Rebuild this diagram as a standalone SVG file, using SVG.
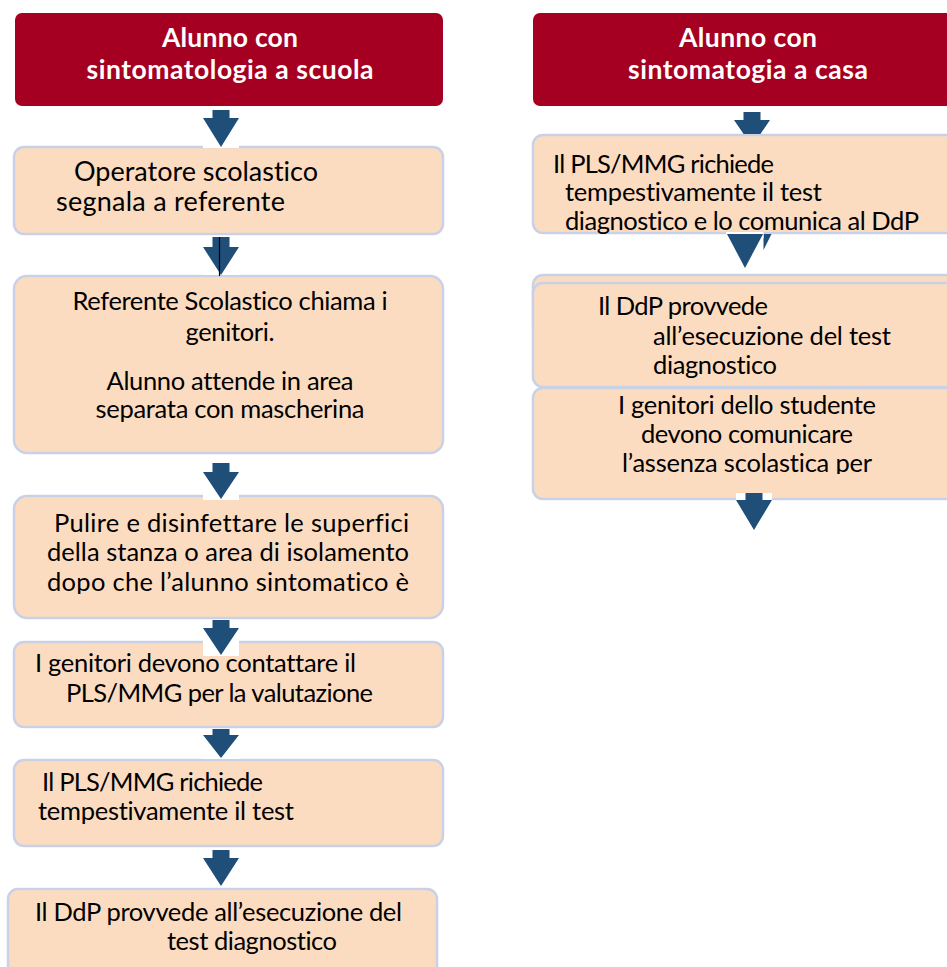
<svg xmlns="http://www.w3.org/2000/svg" width="947" height="967" viewBox="0 0 947 967">
<style>
.hdr{fill:#A50021}
.box{fill:#FCDCC1;stroke:#C9D1E7;stroke-width:2.5}
.ht{font-family:Lato,"Liberation Sans",Arial,sans-serif;font-weight:bold;font-size:26.5px;fill:#FFFFFF;text-anchor:middle;font-variant-ligatures:none}
.t{font-family:Lato,"Liberation Sans",Arial,sans-serif;font-size:25.5px;fill:#000000;font-variant-ligatures:none}
.big{font-size:27px}
.m{text-anchor:middle}
.arr{fill:#1F4E79}
.bg{fill:#FFFFFF}
</style>
<defs>
<clipPath id="c3"><rect x="10" y="490" width="440" height="104"/></clipPath>
<clipPath id="cr3"><rect x="530" y="385" width="420" height="89"/></clipPath>
</defs>
<rect width="947" height="967" fill="#FFFFFF"/>

<g id="header-left">
<rect class="hdr" x="15" y="13" width="428" height="93" rx="7"/>
<text class="ht" x="230" y="47" textLength="136">Alunno con</text>
<text class="ht" x="230" y="79" textLength="287">sintomatologia a scuola</text>
</g>

<g id="box-operatore">
<rect class="box" x="14" y="147" width="429" height="87" rx="10"/>
<text class="t big" x="74" y="181" textLength="244">Operatore scolastico</text>
<text class="t big" x="56" y="211" textLength="229">segnala a referente</text>
</g>

<g id="box-referente">
<rect class="box" x="14" y="276" width="429" height="177" rx="13"/>
<text class="t m" x="230" y="310" textLength="315">Referente Scolastico chiama i</text>
<text class="t m" x="230" y="341" textLength="89">genitori.</text>
<text class="t m" x="230" y="390" textLength="247">Alunno attende in area</text>
<text class="t m" x="230" y="418" textLength="269">separata con mascherina</text>
</g>

<g id="box-pulire">
<rect class="box" x="14" y="496" width="429" height="122" rx="13"/>
<g clip-path="url(#c3)">
<text class="t" x="54" y="532" textLength="355">Pulire e disinfettare le superfici</text>
<text class="t" x="47" y="561" textLength="362">della stanza o area di isolamento</text>
<text class="t" x="47" y="591" textLength="362">dopo che l’alunno sintomatico è</text>
</g>
</g>

<g id="box-genitori">
<rect class="box" x="14" y="642" width="429" height="85" rx="10"/>
<text class="t" x="35" y="672" textLength="321">I genitori devono contattare il</text>
<text class="t" x="66" y="702" textLength="307">PLS/MMG per la valutazione</text>
</g>

<g id="box-pls-left">
<rect class="box" x="14" y="760" width="429" height="86" rx="10"/>
<text class="t" x="42" y="791" textLength="221">Il PLS/MMG richiede</text>
<text class="t" x="38" y="820" textLength="256">tempestivamente il test</text>
</g>

<g id="box-ddp-left">
<rect class="box" x="8" y="889" width="429" height="100" rx="10"/>
<text class="t" x="35" y="921" textLength="367">Il DdP provvede all’esecuzione del</text>
<text class="t" x="167" y="950" textLength="170">test diagnostico</text>
</g>

<g id="header-right">
<rect class="hdr" x="533" y="13" width="430" height="93" rx="7"/>
<text class="ht" x="748" y="47" textLength="138">Alunno con</text>
<text class="ht" x="748" y="79" textLength="240">sintomatogia a casa</text>
</g>

<g id="box-pls-right">
<rect class="box" x="533" y="135" width="430" height="98" rx="10"/>
<text class="t" x="553" y="173" textLength="221">Il PLS/MMG richiede</text>
<text class="t" x="565" y="201" textLength="257">tempestivamente il test</text>
<text class="t" x="565" y="230" textLength="354">diagnostico e lo comunica al DdP</text>
</g>

<g id="box-ddp-right">
<rect class="box" x="533" y="275" width="430" height="60" rx="10"/>
<rect class="box" x="533" y="283" width="430" height="104" rx="10"/>
<text class="t" x="598" y="315" textLength="170">Il DdP provvede</text>
<text class="t" x="653" y="345" textLength="238">all’esecuzione del test</text>
<text class="t" x="653" y="374" textLength="124">diagnostico</text>
</g>

<g id="box-genitori-right">
<rect class="box" x="533" y="388" width="430" height="111" rx="10"/>
<g clip-path="url(#cr3)">
<text class="t m" x="747" y="414" textLength="258">I genitori dello studente</text>
<text class="t m" x="747" y="443" textLength="212">devono comunicare</text>
<text class="t m" x="747" y="472" textLength="250">l’assenza scolastica per</text>
</g>
</g>

<g id="connectors">
<rect class="bg" x="203" y="110" width="36" height="38"/>
<polygon class="arr" points="212.5,110 229.5,110 229.5,118 239,118 221,147 203,118 212.5,118"/>

<rect class="bg" x="203" y="237" width="36" height="38"/>
<polygon class="arr" points="212.5,237 229.5,237 229.5,247 239,247 221,275 203,247 212.5,247"/>
<line x1="219.5" y1="237" x2="219.5" y2="276" stroke="#000000" stroke-width="1.2"/>

<rect class="bg" x="203" y="463" width="36" height="37"/>
<polygon class="arr" points="212.5,463 229.5,463 229.5,472 239,472 221,499 203,472 212.5,472"/>

<rect class="bg" x="203" y="620" width="36" height="36"/>
<polygon class="arr" points="212.5,620 229.5,620 229.5,628 239,628 221,655 203,628 212.5,628"/>

<rect class="bg" x="203" y="729" width="36" height="30"/>
<polygon class="arr" points="212.5,729 229.5,729 229.5,735 239,735 221,758 203,735 212.5,735"/>

<rect class="bg" x="203" y="850" width="36" height="37"/>
<polygon class="arr" points="212.5,850 229.5,850 229.5,858 239,858 221,886 203,858 212.5,858"/>

<polygon class="arr" points="743.5,112 760.5,112 760.5,120 770,120 760.4,134 743.6,134 734,120 743.5,120"/>

<polygon class="arr" points="763.5,234 771.5,234 763.5,250"/>
<rect class="bg" x="726" y="232" width="37.5" height="6"/>
<polygon class="arr" points="727,234 763,234 745,268"/>

<rect class="bg" x="736" y="493" width="36" height="7"/>
<rect class="arr" x="745.5" y="493" width="17" height="8"/>
<polygon class="arr" points="736,500 772,500 754,530"/>
</g>
</svg>
